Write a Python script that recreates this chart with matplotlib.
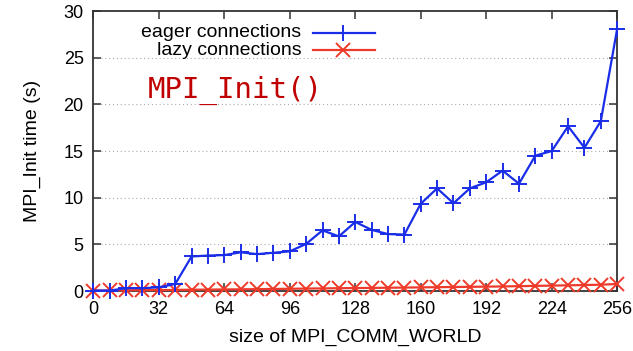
import numpy as np
import matplotlib.pyplot as plt
from matplotlib.lines import Line2D

# communicator sizes (every 8 ranks)
sizes = np.arange(0, 257, 8)

# MPI_Init time in seconds
eager = [0.05, 0.05, 0.3, 0.3, 0.4, 0.75, 3.7, 3.8, 3.85, 4.15, 3.95, 4.1, 4.25,
         5.05, 6.5, 5.85, 7.4, 6.55, 6.1, 6.05, 9.35, 11.0, 9.4, 11.0, 11.65,
         12.9, 11.5, 14.5, 15.0, 17.65, 15.35, 18.2, 28.1]
lazy = [0.05, 0.06, 0.08, 0.1, 0.1, 0.12, 0.14, 0.15, 0.17, 0.18, 0.2, 0.22, 0.24,
        0.26, 0.28, 0.3, 0.32, 0.33, 0.35, 0.37, 0.39, 0.41, 0.43, 0.45, 0.47,
        0.49, 0.52, 0.55, 0.58, 0.61, 0.64, 0.68, 0.75]

blue = '#1a2ee8'
red = '#ee3a2a'
frame = '#333333'

plt.rcParams['font.family'] = ['Liberation Sans', 'DejaVu Sans']

fig = plt.figure(figsize=(6.33, 3.51), dpi=100)
ax = fig.add_axes([0.1475, 0.1709, 0.8275, 0.7977])

ax.plot(sizes, lazy, color=red, lw=1.6, marker='x', ms=10, mew=1.4, clip_on=False, zorder=3)
ax.plot(sizes, eager, color=blue, lw=1.6, marker='+', ms=11, mew=1.4, clip_on=False, zorder=4)

ax.set_xlim(0, 256)
ax.set_ylim(0, 30)
ax.set_xticks(np.arange(0, 257, 32))
ax.set_yticks(np.arange(0, 31, 5))
for y in range(5, 30, 5):
    ax.axhline(y, color='#aaaaaa', lw=0.8, ls=(0, (1, 2.5)), zorder=1)

ax.tick_params(direction='in', length=6, width=1.1, color=frame, labelsize=13,
               top=True, right=True, pad=7)
for s in ax.spines.values():
    s.set_color(frame)
    s.set_linewidth(1.3)

ax.set_xlabel('size of MPI_COMM_WORLD', fontsize=14, labelpad=8)
ax.set_ylabel('MPI_Init time (s)', fontsize=14, labelpad=16)

# gnuplot style key: right aligned labels, samples on the right
keys = [('eager connections', blue, '+', 11), ('lazy connections', red, 'x', 10)]
for i, (lab, col, mk, ms) in enumerate(keys):
    yk = 0.922 - i * 0.062
    ax.text(0.397, yk, lab, transform=ax.transAxes, ha='right', va='center', fontsize=14)
    ax.add_line(Line2D([0.42, 0.538], [yk, yk], transform=ax.transAxes, color=col, lw=1.6))
    ax.add_line(Line2D([0.477], [yk], transform=ax.transAxes, color=col, marker=mk,
                       ms=ms, mew=1.4))

ax.text(0.103, 0.715, 'MPI_Init()', transform=ax.transAxes, ha='left', va='center',
        fontsize=21, color='#c00000', family='DejaVu Sans Mono')

fig.savefig('out.png', dpi=100)
